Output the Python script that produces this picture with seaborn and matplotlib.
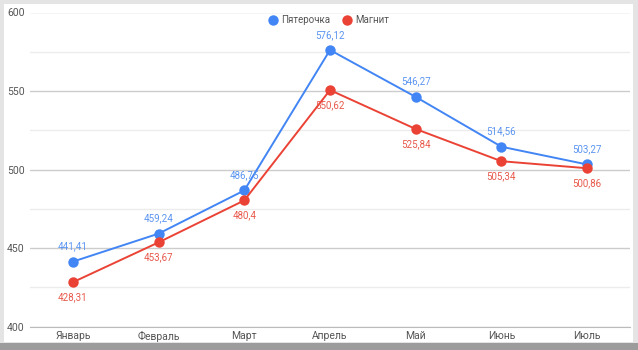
import matplotlib
matplotlib.use("Agg")
import matplotlib.pyplot as plt
from matplotlib.patches import Rectangle
from matplotlib.lines import Line2D
import seaborn as sns
import pandas as pd

months = ["Январь", "Февраль", "Март", "Апрель", "Май", "Июнь", "Июль"]
pyaterochka = [441.41, 459.24, 486.75, 576.12, 546.27, 514.56, 503.27]
magnit = [428.31, 453.67, 480.4, 550.62, 525.84, 505.34, 500.86]
series_names = ["Пятерочка", "Магнит"]
yticks = [400, 450, 500, 550, 600]

colors = {"Пятерочка": "#4285F4", "Магнит": "#EA4335"}
label_colors = {"Пятерочка": "#5b95f0", "Магнит": "#e8584b"}

sns.set_style("white")
plt.rcParams["font.family"] = ["Roboto", "DejaVu Sans"]

df = pd.DataFrame({
    "month": months * 2,
    "x": list(range(len(months))) * 2,
    "value": pyaterochka + magnit,
    "series": [series_names[0]] * len(months) + [series_names[1]] * len(months),
})

fig = plt.figure(figsize=(6.38, 3.5), dpi=100)
fig.patch.set_facecolor("#e4e4e4")
# card
fig.patches.append(Rectangle((0, 0), 1, 7 / 350, transform=fig.transFigure,
                             facecolor="#9c9c9c", edgecolor="none", zorder=-2))
fig.patches.append(Rectangle((4 / 638, 8 / 350), 629 / 638, 338 / 350, transform=fig.transFigure,
                             facecolor="white", edgecolor="none", zorder=-1))

ax = fig.add_axes([30 / 638, 1 - 326.7 / 350, 600 / 638, 314.2 / 350])
ax.set_zorder(1)
ax.set_facecolor("none")

sns.lineplot(data=df, x="x", y="value", hue="series", palette=colors,
             marker="o", markersize=7.5, markeredgewidth=0, linewidth=1.4,
             ax=ax, legend=False, zorder=3)

ax.set_xlim(-0.5, len(months) - 0.5)
ax.set_ylim(400, 600)
ax.set_xticks(range(len(months)))
ax.set_xticklabels(months)
ax.set_yticks(yticks)
ax.set_yticks([425, 475, 525, 575], minor=True)
ax.grid(True, which="major", axis="y", color="#cccccc", linewidth=1)
ax.grid(True, which="minor", axis="y", color="#ececec", linewidth=1)
ax.set_axisbelow(True)
for s in ["top", "right", "left"]:
    ax.spines[s].set_visible(False)
ax.spines["bottom"].set_color("#bbbbbb")
ax.tick_params(axis="both", which="both", length=0, labelsize=7.5, labelcolor="#555555")
ax.tick_params(axis="x", pad=3)
ax.tick_params(axis="y", pad=4)
ax.set_xlabel("")
ax.set_ylabel("")


def fmt(v):
    return f"{v:g}".replace(".", ",")


for i, v in enumerate(pyaterochka):
    ax.annotate(fmt(v), (i, v), xytext=(0, 11), textcoords="offset points",
                ha="center", va="center", fontsize=7, color=label_colors["Пятерочка"], zorder=4)
for i, v in enumerate(magnit):
    ax.annotate(fmt(v), (i, v), xytext=(0, -11), textcoords="offset points",
                ha="center", va="center", fontsize=7, color=label_colors["Магнит"], zorder=4)

handles = [Line2D([], [], marker="o", linestyle="none", markersize=7.5,
                  markerfacecolor=colors[n], markeredgewidth=0) for n in series_names]
leg = ax.legend(handles, series_names, loc="center", bbox_to_anchor=(0.497, 0.976),
                ncol=2, frameon=False, fontsize=7, handletextpad=0.2,
                columnspacing=1.2, handlelength=1.2)
for t in leg.get_texts():
    t.set_color("#555555")

fig.savefig("out.png", dpi=100, facecolor=fig.get_facecolor())
